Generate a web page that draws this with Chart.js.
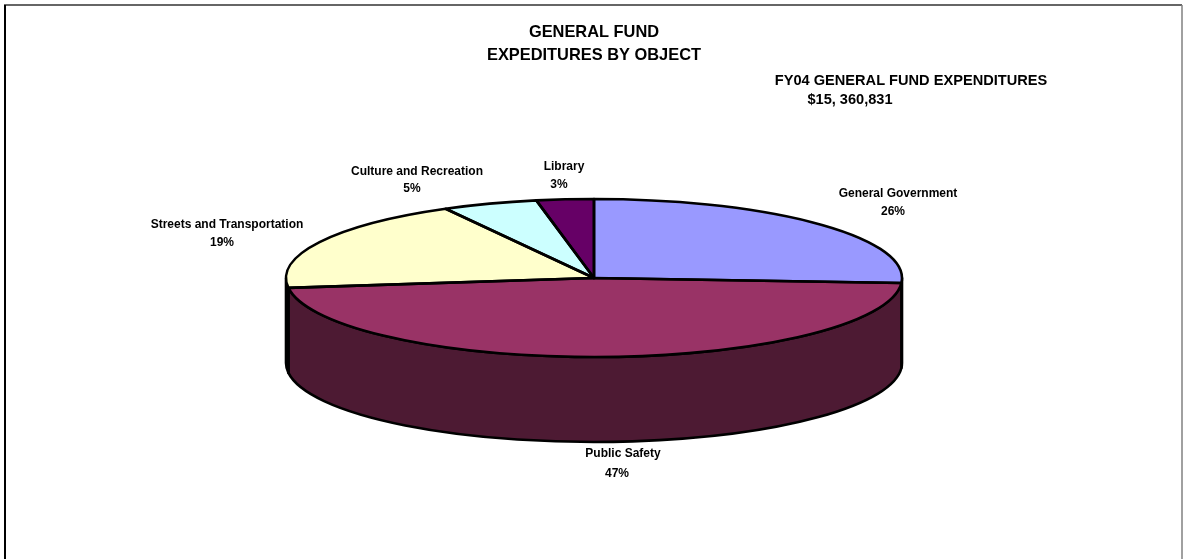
<!DOCTYPE html>
<html>
<head>
<meta charset="utf-8">
<title>General Fund Expenditures by Object</title>
<style>
  html, body { margin: 0; padding: 0; background: #ffffff; }
  canvas { display: block; }
</style>
<script src="https://cdn.jsdelivr.net/npm/chart.js@4"></script>
</head>
<body>
<canvas id="pie" width="1183" height="559"></canvas>
<script>
// Budget shares, in percent
const categories = ['General Government', 'Public Safety', 'Streets and Transportation', 'Culture and Recreation', 'Library'];
const shares = [26, 47, 19, 5, 3];

const topColors = ['#9999FF', '#993366', '#FFFFCC', '#CCFFFF', '#660066'];
const sideColors = ['#4D4D80', '#4D1A33', '#808066', '#668080', '#330033'];

const titleLines = ['GENERAL FUND', 'EXPEDITURES BY OBJECT'];
const totalLines = ['FY04 GENERAL FUND EXPENDITURES', '$15, 360,831'];

// Label placement: centre x of name, centre x of percentage, y of name, y of percentage
const labelSpots = [
  [898, 893, 194, 212],
  [623, 617, 454, 474],
  [227, 222, 225, 243],
  [417, 412, 172, 189],
  [564, 559, 167, 185]
];

const FONT = '"Liberation Sans", Arial, sans-serif';
const PIE_RX = 308;      // horizontal radius of the flattened disc
const PIE_DEPTH = 85;    // height of the disc's wall
const OUTLINE = 2.6;

function arcGeometry(chart) {
  return chart.getDatasetMeta(0).data.map(el =>
    el.getProps(['x', 'y', 'startAngle', 'endAngle', 'outerRadius'], true));
}

const flatPie = {
  id: 'flatPie',
  beforeDatasetsDraw(chart) {
    const ctx = chart.ctx;
    const arcs = arcGeometry(chart);

    // Wall of the disc: only the part of each slice on the near side shows
    ctx.save();
    ctx.lineWidth = OUTLINE;
    ctx.strokeStyle = '#000000';
    ctx.lineJoin = 'round';
    arcs.forEach((a, i) => {
      const from = Math.max(a.startAngle, 0);
      const to = Math.min(a.endAngle, Math.PI);
      if (to <= from) return;
      ctx.beginPath();
      ctx.ellipse(a.x, a.y, PIE_RX, a.outerRadius, 0, from, to);
      ctx.ellipse(a.x, a.y + PIE_DEPTH, PIE_RX, a.outerRadius, 0, to, from, true);
      ctx.closePath();
      ctx.fillStyle = sideColors[i];
      ctx.fill();
      ctx.stroke();
    });
    ctx.restore();

    // Squash the library's round slices into an ellipse
    const a = arcs[0];
    ctx.save();
    ctx.translate(a.x, a.y);
    ctx.scale(PIE_RX / a.outerRadius, 1);
    ctx.translate(-a.x, -a.y);
  },
  afterDatasetsDraw(chart) {
    const ctx = chart.ctx;
    ctx.restore();

    // Outlines go on after the transform is gone so the pen stays even
    ctx.save();
    ctx.lineWidth = OUTLINE;
    ctx.strokeStyle = '#000000';
    ctx.lineJoin = 'round';
    arcGeometry(chart).forEach(a => {
      ctx.beginPath();
      ctx.moveTo(a.x, a.y);
      ctx.ellipse(a.x, a.y, PIE_RX, a.outerRadius, 0, a.startAngle, a.endAngle);
      ctx.closePath();
      ctx.stroke();
    });
    ctx.restore();
  },
  afterDraw(chart) {
    const ctx = chart.ctx;
    ctx.save();

    // Page frame
    ctx.lineWidth = 2;
    ctx.strokeStyle = '#666666';
    ctx.beginPath();
    ctx.moveTo(4, 5);
    ctx.lineTo(1182, 5);
    ctx.stroke();
    ctx.strokeStyle = '#808080';
    ctx.lineWidth = 1.5;
    ctx.beginPath();
    ctx.moveTo(1182, 5);
    ctx.lineTo(1182, 559);
    ctx.stroke();
    ctx.strokeStyle = '#000000';
    ctx.lineWidth = 2;
    ctx.beginPath();
    ctx.moveTo(5, 5);
    ctx.lineTo(5, 559);
    ctx.stroke();

    // Headings
    ctx.fillStyle = '#000000';
    ctx.textAlign = 'center';
    ctx.textBaseline = 'middle';
    ctx.font = 'bold 16.4px ' + FONT;
    ctx.fillText(titleLines[0], 594, 32);
    ctx.fillText(titleLines[1], 594, 55);
    ctx.font = 'bold 14.6px ' + FONT;
    ctx.fillText(totalLines[0], 911, 81);
    ctx.fillText(totalLines[1], 850, 100);

    // Slice labels
    ctx.font = 'bold 12px ' + FONT;
    categories.forEach((name, i) => {
      const s = labelSpots[i];
      ctx.fillText(name, s[0], s[2]);
      ctx.fillText(shares[i] + '%', s[1], s[3]);
    });
    ctx.restore();
  }
};

new Chart(document.getElementById('pie'), {
  type: 'pie',
  data: {
    labels: categories,
    datasets: [{
      data: shares,
      backgroundColor: topColors,
      borderWidth: 0,
      clip: false
    }]
  },
  options: {
    responsive: false,
    animation: false,
    events: [],
    layout: { padding: { top: 199, bottom: 202, left: 5, right: 0 } },
    plugins: {
      legend: { display: false },
      title: { display: false },
      tooltip: { enabled: false }
    }
  },
  plugins: [flatPie]
});
</script>
</body>
</html>
